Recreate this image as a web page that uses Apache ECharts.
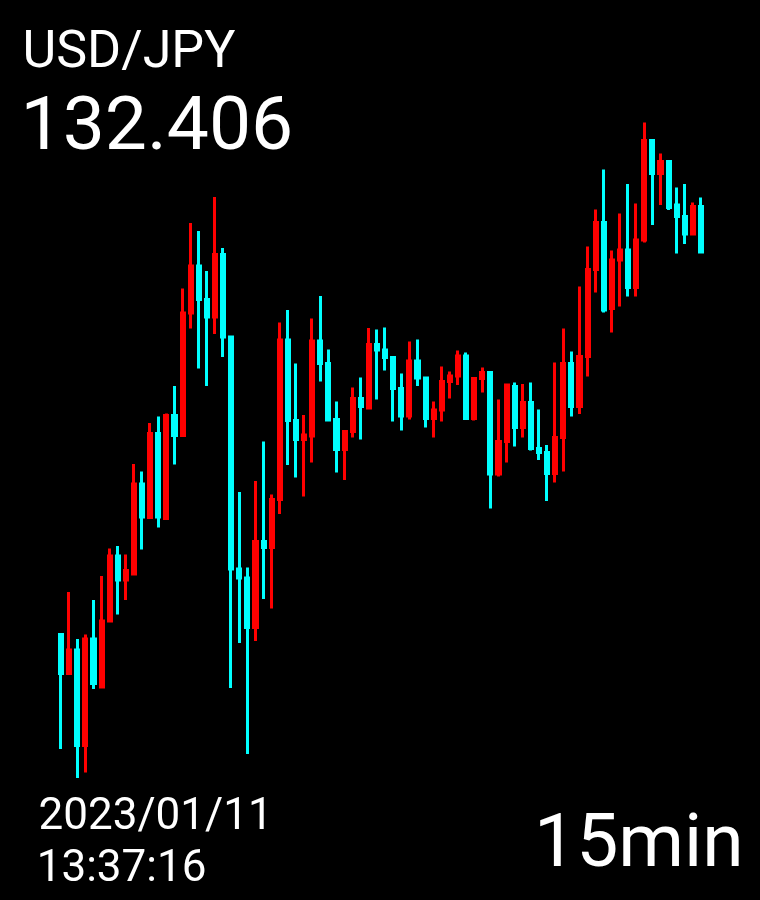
<!DOCTYPE html>
<html>
<head>
<meta charset="utf-8">
<script src="https://cdn.jsdelivr.net/npm/echarts@6/dist/echarts.min.js"></script>
<style>
html,body{margin:0;padding:0;background:#000;}
#c{width:760px;height:900px;}
</style>
</head>
<body>
<div id="c"></div>
<script>
var pairLabel = 'USD/JPY';
var priceLabel = '132.406';
var dateLabel = '2023/01/11';
var timeLabel = '13:37:16';
var periodLabel = '15min';

var openArr = [131.641,131.563,131.610,131.419,131.632,131.536,131.668,131.798,131.750,131.762,
131.942,131.875,132.043,131.873,132.079,132.039,132.284,132.378,132.311,132.276,
132.401,132.236,131.772,131.754,131.655,131.827,131.815,131.911,132.230,132.069,
132.031,132.038,132.228,132.183,132.071,132.011,132.047,132.113,132.094,132.221,
132.210,132.195,132.133,132.078,132.188,132.154,132.073,132.090,132.147,132.158,
132.198,132.073,132.153,132.165,131.962,132.027,132.137,132.055,132.105,132.013,
132.005,131.963,132.035,132.183,132.097,132.197,132.371,132.465,132.293,132.390,
132.410,132.335,132.430,132.629,132.563,132.587,132.500,132.477,132.442,132.497];

var closeArr = [131.563,131.610,131.419,131.632,131.543,131.668,131.798,131.750,131.769,131.942,
131.876,132.043,131.876,132.079,132.039,132.284,132.378,132.311,132.276,132.401,
132.236,131.772,131.754,131.655,131.827,131.815,131.911,132.230,132.069,132.031,
132.040,132.228,132.183,132.070,132.011,132.047,132.113,132.097,132.221,132.210,
132.195,132.133,132.078,132.188,132.154,132.073,132.090,132.147,132.158,132.198,
132.073,132.153,132.165,131.962,132.027,132.140,132.055,132.105,132.013,132.005,
131.963,132.035,132.183,132.097,132.197,132.371,132.465,132.290,132.390,132.410,
132.335,132.430,132.629,132.563,132.587,132.495,132.477,132.442,132.497,132.406];

var lowArr = [131.412,131.563,131.354,131.365,131.532,131.536,131.668,131.681,131.710,131.762,
131.811,131.875,131.855,131.873,131.981,132.039,132.253,132.173,132.138,132.242,
132.196,131.534,131.624,131.402,131.628,131.712,131.693,131.882,131.980,131.955,
131.917,131.985,132.147,132.067,131.965,131.950,132.035,132.031,132.091,132.111,
132.169,132.067,132.049,132.071,132.138,132.055,132.035,132.067,132.113,132.140,
132.073,132.069,132.125,131.893,131.957,131.985,132.017,132.035,132.009,131.990,
131.908,131.945,131.967,132.077,132.082,132.157,132.325,132.285,132.245,132.297,
132.317,132.317,132.425,132.460,132.500,132.490,132.403,132.422,132.442,132.406];

var highArr = [131.641,131.726,131.632,131.641,131.710,131.758,131.813,131.818,131.801,131.982,
131.967,132.064,132.077,132.083,132.138,132.333,132.464,132.448,132.368,132.516,
132.414,132.236,131.926,131.775,131.948,132.027,131.921,132.265,132.290,132.183,
132.080,132.273,132.318,132.211,132.107,132.047,132.135,132.155,132.254,132.251,
132.255,132.195,132.163,132.227,132.231,132.154,132.107,132.177,132.167,132.209,
132.205,132.153,132.175,132.165,132.111,132.142,132.145,132.142,132.145,132.091,
132.020,132.185,132.253,132.207,132.337,132.417,132.491,132.571,132.409,132.483,
132.542,132.503,132.665,132.631,132.603,132.587,132.535,132.542,132.505,132.515];

// category labels: 15-minute bars (axis hidden)
var categories = [];
(function(){
  var t = new Date(2023, 0, 10, 17, 45);
  for (var i = 0; i < openArr.length; i++) {
    var d = new Date(t.getTime() + i * 15 * 60000);
    categories.push(('0'+d.getHours()).slice(-2) + ':' + ('0'+d.getMinutes()).slice(-2));
  }
})();

var ohlc = openArr.map(function(o, i){ return [o, closeArr[i], lowArr[i], highArr[i]]; });

var chart = echarts.init(document.getElementById('c'), null, {renderer:'canvas'});
var FONT = 'Roboto, "Noto Sans", sans-serif';
chart.setOption({
  backgroundColor: '#000000',
  animation: false,
  grid: {left: 57, right: 55, top: 120, bottom: 120},
  xAxis: {type:'category', data: categories, boundaryGap: true, show: false},
  yAxis: {type:'value', min: 131.35, max: 132.67, show: false, splitLine:{show:false}},
  series: [{
    type: 'candlestick',
    data: ohlc,
    barWidth: 3.6,
    itemStyle: {
      color: '#ff0000', color0: '#00ffff',
      borderColor: '#ff0000', borderColor0: '#00ffff',
      borderWidth: 3
    }
  }],
  graphic: [
    {type:'text', x: 22.5, y: 53.5, style:{text: pairLabel, fill:'#ffffff', font:'52px ' + FONT, verticalAlign:'middle', align:'left'}},
    {type:'text', x: 20.5, y: 130.6, style:{text: priceLabel, fill:'#ffffff', font:'75px ' + FONT, verticalAlign:'middle', align:'left'}},
    {type:'text', x: 38.5, y: 818, style:{text: dateLabel, fill:'#ffffff', font:'44px ' + FONT, verticalAlign:'middle', align:'left'}},
    {type:'text', x: 36.7, y: 869.5, style:{text: timeLabel, fill:'#ffffff', font:'44px ' + FONT, verticalAlign:'middle', align:'left'}},
    {type:'text', x: 534, y: 847.5, style:{text: periodLabel, fill:'#ffffff', font:'75px ' + FONT, verticalAlign:'middle', align:'left'}}
  ]
});
</script>
</body>
</html>
